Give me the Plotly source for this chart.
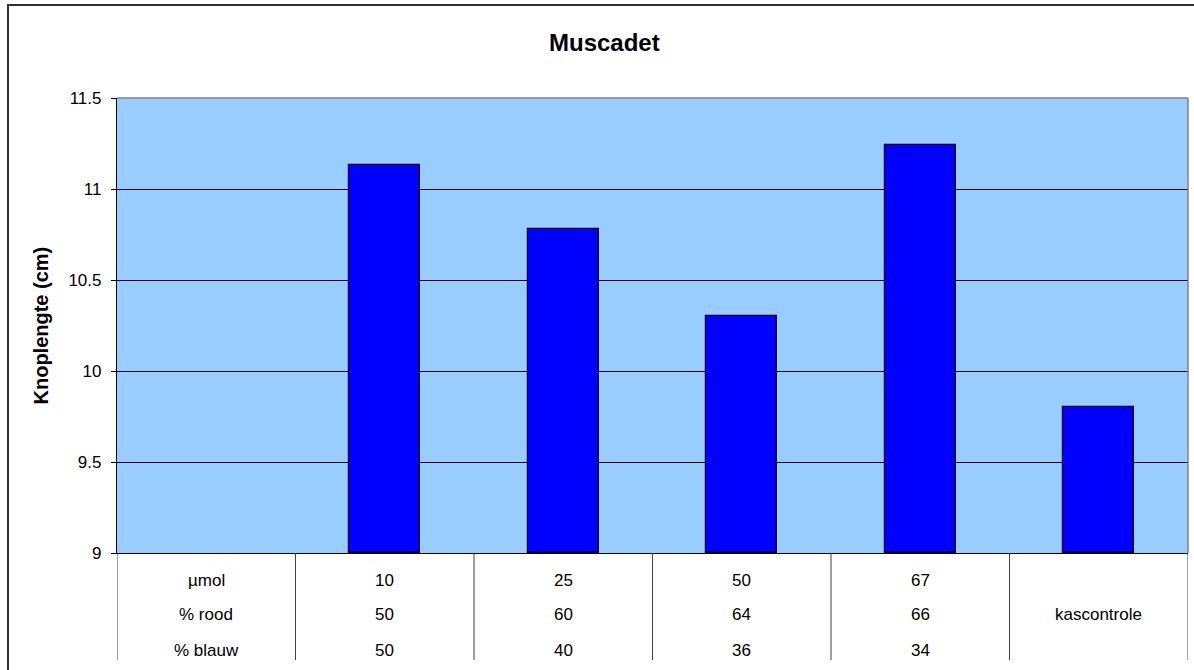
import plotly.graph_objects as go

# Bar chart data: bud length per light treatment
treatments = ["10", "25", "50", "67", "kascontrole"]
knoplengte = [11.13, 10.78, 10.30, 11.24, 9.80]

# Rows of the data table under the axis
row_labels = ["µmol", "% rood", "% blauw"]
umol = ["10", "25", "50", "67", ""]
rood = ["50", "60", "64", "66", "kascontrole"]
blauw = ["50", "40", "36", "34", ""]

y_ticks = [9, 9.5, 10, 10.5, 11, 11.5]
y_tick_text = ["9", "9.5", "10", "10.5", "11", "11.5"]

W, H = 1194, 670
ML, MR, MT, MB = 117, 6, 98, 117
plot_w = W - ML - MR
plot_h = H - MT - MB

def px_x(px):
    return (px - ML) / plot_w

def px_y(py):
    return (H - MB - py) / plot_h

font_family = "Liberation Sans, Arial, sans-serif"

# column 0 holds the row labels; bars occupy columns 1..5
bar_x = list(range(1, len(treatments) + 1))

fig = go.Figure()
fig.add_trace(go.Bar(
    x=bar_x,
    y=[v - 9 for v in knoplengte],
    base=9,
    width=0.4,
    marker=dict(color="#0000FF", line=dict(color="#000000", width=1.2)),
    hoverinfo="skip",
))

shapes = []
# plot-area top and right borders
shapes.append(dict(type="line", xref="paper", yref="paper", x0=0, x1=1, y0=1, y1=1,
                   line=dict(color="#808080", width=1.5)))
shapes.append(dict(type="line", xref="paper", yref="paper", x0=1, x1=1, y0=0, y1=1,
                   line=dict(color="#808080", width=1.5)))
# table column dividers
table_bottom = px_y(660)
for i in range(len(treatments) + 2):
    shapes.append(dict(type="line", xref="x", yref="paper", x0=i - 0.5, x1=i - 0.5,
                       y0=0, y1=table_bottom, line=dict(color="#404040", width=1)))
# outer chart frame
shapes.append(dict(type="rect", xref="paper", yref="paper",
                   x0=px_x(8), x1=px_x(1210), y0=px_y(5), y1=px_y(690),
                   line=dict(color="#303030", width=2), fillcolor="rgba(0,0,0,0)"))

annotations = []
# table text
row_offsets = [27, 61, 97]
columns = [row_labels] + [[umol[k], rood[k], blauw[k]] for k in range(len(treatments))]
for ci, col in enumerate(columns):
    for ri, txt in enumerate(col):
        if not txt:
            continue
        annotations.append(dict(x=ci, xref="x", y=0, yref="paper", yshift=-row_offsets[ri],
                                text=txt, showarrow=False, xanchor="center", yanchor="middle",
                                font=dict(family=font_family, size=17, color="#000000")))
# chart title
annotations.append(dict(x=px_x(604), xref="paper", y=px_y(42), yref="paper",
                        text="<b>Muscadet</b>", showarrow=False, xanchor="center", yanchor="middle",
                        font=dict(family=font_family, size=24, color="#000000")))
# y-axis title
annotations.append(dict(x=px_x(40), xref="paper", y=0.5, yref="paper",
                        text="<b>Knoplengte (cm)</b>", textangle=-90, showarrow=False,
                        xanchor="center", yanchor="middle",
                        font=dict(family=font_family, size=20, color="#000000")))

fig.update_layout(
    width=W, height=H,
    margin=dict(l=ML, r=MR, t=MT, b=MB, pad=0),
    paper_bgcolor="#FFFFFF",
    plot_bgcolor="#99CCFF",
    showlegend=False,
    bargap=0,
    shapes=shapes,
    annotations=annotations,
    xaxis=dict(range=[-0.5, len(treatments) + 0.5], showticklabels=False, ticks="",
               showgrid=False, zeroline=False, showline=True, linecolor="#000000", linewidth=1.2,
               fixedrange=True),
    yaxis=dict(range=[9, 11.5], tickvals=y_ticks, ticktext=y_tick_text,
               ticks="outside", ticklen=5, tickcolor="#000000", tickwidth=1,
               ticklabelstandoff=6,
               showgrid=True, gridcolor="#000000", gridwidth=1,
               zeroline=False, showline=True, linecolor="#000000", linewidth=1.2,
               tickfont=dict(family=font_family, size=17, color="#000000"),
               fixedrange=True),
)

fig.write_html("out.html")
